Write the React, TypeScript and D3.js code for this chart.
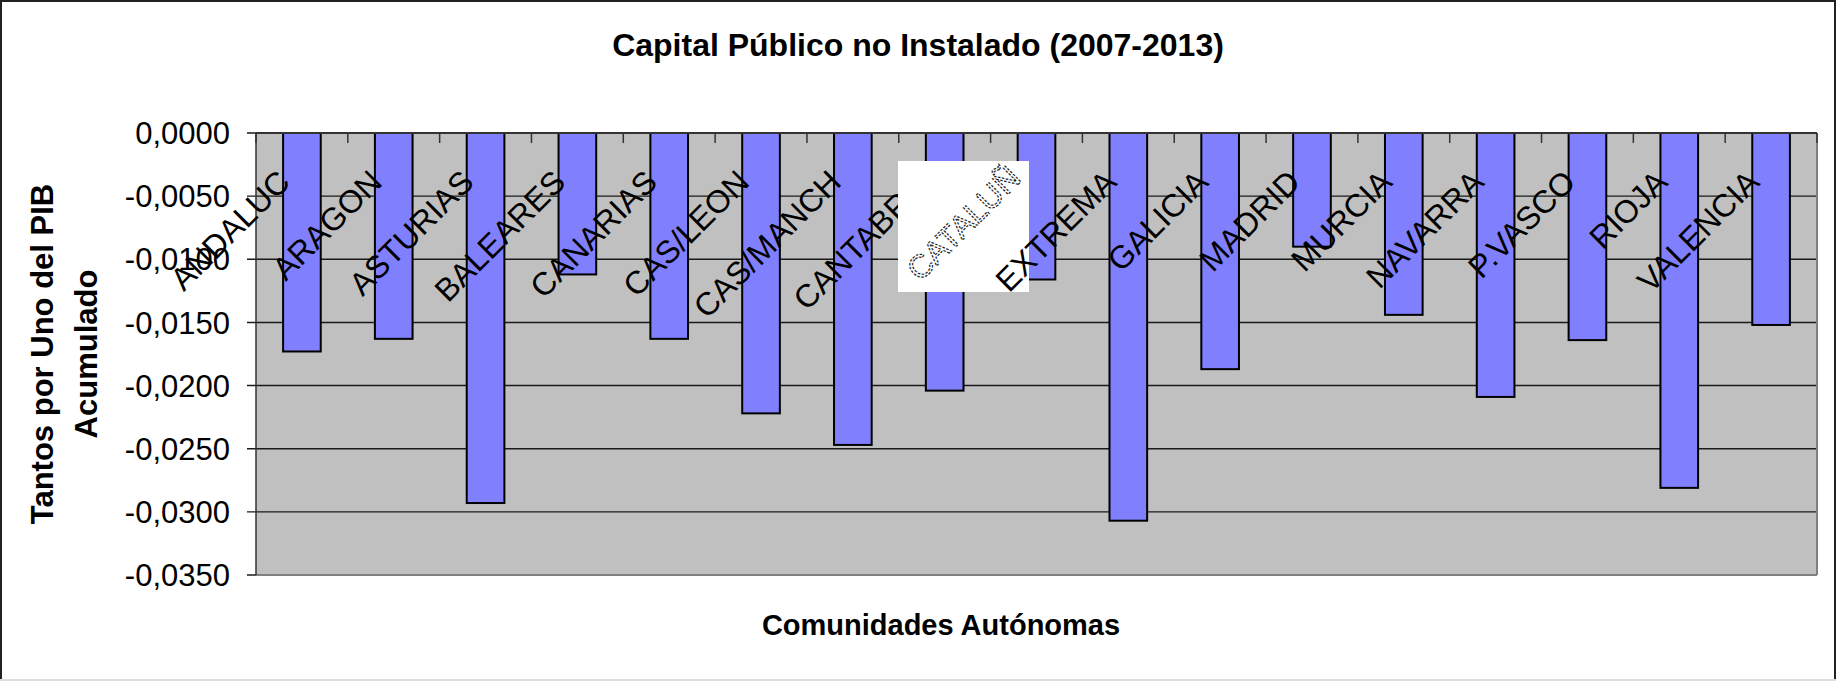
import React from "react";
import * as d3 from "d3";

const categories = [
  "ANDALUC", "ARAGON", "ASTURIAS", "BALEARES", "CANARIAS", "CAS/LEON", "CAS/MANCH",
  "CANTABRIA", "CATALUÑ", "EXTREMA", "GALICIA", "MADRID", "MURCIA", "NAVARRA",
  "P.VASCO", "RIOJA", "VALENCIA",
];
const values = [
  -0.0173, -0.0163, -0.0293, -0.0112, -0.0163, -0.0222, -0.0247,
  -0.0204, -0.0116, -0.0307, -0.0187, -0.009, -0.0144, -0.0209,
  -0.0164, -0.0281, -0.0152,
];
const yTicks = [0, -0.005, -0.01, -0.015, -0.02, -0.025, -0.03, -0.035];
const title = "Capital Público no Instalado (2007-2013)";
const xTitle = "Comunidades Autónomas";
const yTitleLines = ["Tantos por Uno del PIB", "Acumulado"];
const maskedCategory = "CATALUÑ";

const W = 1836;
const H = 681;
const FONT = "'Liberation Sans', Arial, sans-serif";

export default function App() {
  const plot = { left: 256, right: 1817, top: 133, bottom: 575 };
  const x = d3
    .scaleBand<string>()
    .domain(categories)
    .range([plot.left, plot.right])
    .paddingInner(0.59)
    .paddingOuter(0.295);
  const y = d3.scaleLinear().domain([-0.035, 0]).range([plot.bottom, plot.top]);
  const locale = d3.formatLocale({
    decimal: ",",
    thousands: ".",
    grouping: [3],
    currency: ["", ""],
    minus: "-",
  });
  const fmt = locale.format(".4f");
  const step = x.step();
  const boundaries = d3.range(categories.length + 1).map((i) => plot.left + i * step);

  const maskIdx = categories.indexOf(maskedCategory);

  return (
    <svg
      width={W}
      height={H}
      style={{ position: "absolute", left: 0, top: 0, background: "#fff" }}
      fontFamily={FONT}
    >
      <rect x={0} y={0} width={W} height={H} fill="#fff" />
      {/* outer border */}
      <line x1={1} y1={0} x2={1} y2={H} stroke="#222" strokeWidth={2} />
      <line x1={0} y1={1} x2={W} y2={1} stroke="#222" strokeWidth={2} />
      <line x1={W - 1} y1={0} x2={W - 1} y2={H} stroke="#222" strokeWidth={2} />
      <line x1={0} y1={H - 1} x2={W} y2={H - 1} stroke="#ddd" strokeWidth={2} />

      {/* title */}
      <text x={918} y={56} textAnchor="middle" fontSize={32} fontWeight="bold" fill="#000">
        {title}
      </text>

      {/* plot background */}
      <rect
        x={plot.left}
        y={plot.top}
        width={plot.right - plot.left}
        height={plot.bottom - plot.top}
        fill="#C0C0C0"
      />
      {/* gridlines */}
      {yTicks.map((t) => (
        <line
          key={"g" + t}
          x1={plot.left - 9}
          x2={plot.right}
          y1={y(t)}
          y2={y(t)}
          stroke="#1a1a1a"
          strokeWidth={1.4}
        />
      ))}
      {/* right / bottom border */}
      <line x1={plot.right} x2={plot.right} y1={plot.top} y2={plot.bottom} stroke="#808080" strokeWidth={2} />
      <line x1={plot.left} x2={plot.right} y1={plot.bottom} y2={plot.bottom} stroke="#808080" strokeWidth={2} />
      {/* y axis line */}
      <line x1={plot.left} x2={plot.left} y1={plot.top} y2={plot.bottom} stroke="#333" strokeWidth={1.5} />

      {/* bars */}
      {categories.map((c, i) => {
        const v = values[i];
        return (
          <rect
            key={"b" + c}
            x={x(c)}
            y={y(0)}
            width={x.bandwidth()}
            height={y(v) - y(0)}
            fill="#8080FF"
            stroke="#000"
            strokeWidth={2}
          />
        );
      })}

      {/* x axis line at zero & tick marks */}
      <line x1={plot.left} x2={plot.right} y1={y(0)} y2={y(0)} stroke="#333" strokeWidth={2} />
      {boundaries.map((bx, i) => (
        <line key={"t" + i} x1={bx} x2={bx} y1={y(0)} y2={y(0) + 10} stroke="#333" strokeWidth={1.5} />
      ))}

      {/* y tick labels */}
      {yTicks.map((t) => (
        <text
          key={"yl" + t}
          x={230}
          y={y(t)}
          dy="0.36em"
          textAnchor="end"
          fontSize={31}
          fill="#000"
        >
          {fmt(t)}
        </text>
      ))}

      {/* category labels (the masked one sits on a white pasted box drawn in order) */}
      {categories.map((c, i) => {
        const cx = (x(c) as number) + x.bandwidth() / 2 - 10;
        const cy = 184;
        if (i === maskIdx) {
          return (
            <g key={"cl" + c}>
              <rect x={898} y={161} width={131} height={131} fill="#fff" />
              <text
                transform={`translate(${cx - 4},${cy - 4}) rotate(-45)`}
                textAnchor="end"
                fontSize={32}
                fill="none"
                stroke="#222"
                strokeWidth={1.2}
                strokeDasharray="2.5 1.5"
              >
                {c}
              </text>
            </g>
          );
        }
        return (
          <text
            key={"cl" + c}
            transform={`translate(${cx},${cy}) rotate(-45)`}
            textAnchor="end"
            fontSize={32}
            fill="#000"
          >
            {c}
          </text>
        );
      })}

      {/* axis titles */}
      <text x={941} y={635} textAnchor="middle" fontSize={29} fontWeight="bold" fill="#000">
        {xTitle}
      </text>
      {yTitleLines.map((line, i) => (
        <text
          key={"yt" + i}
          transform={`translate(${53 + i * 44},${354}) rotate(-90)`}
          textAnchor="middle"
          fontSize={31}
          fontWeight="bold"
          fill="#000"
        >
          {line}
        </text>
      ))}
    </svg>
  );
}
